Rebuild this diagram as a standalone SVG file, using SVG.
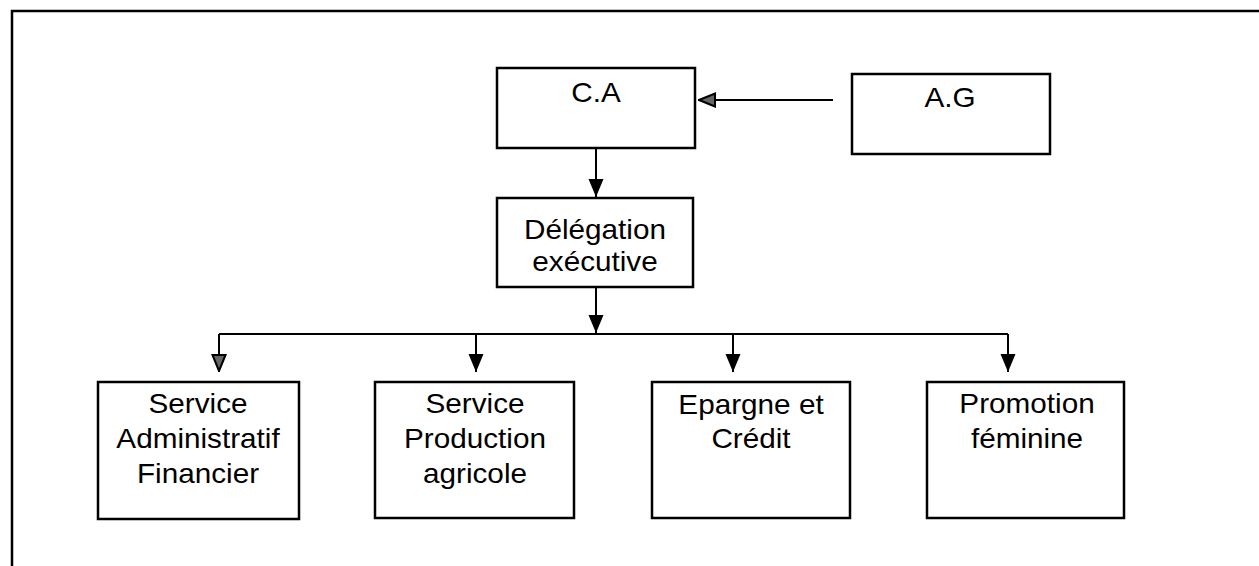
<svg xmlns="http://www.w3.org/2000/svg" width="1259" height="566" viewBox="0 0 1259 566">
<style>
.box{fill:#fff;stroke:#000;stroke-width:2.5}
.lbl{font-family:"Liberation Sans",Arial,sans-serif;font-size:27px;fill:#000;text-anchor:middle}
.con{fill:none;stroke:#000;stroke-width:2}
.frame{fill:none;stroke:#000;stroke-width:2.5}
</style>
<defs>
<marker id="ah" viewBox="0 0 18 18" refX="18" refY="9" markerWidth="18" markerHeight="18" markerUnits="userSpaceOnUse" orient="auto">
<path d="M0,1.5 L18,9 L0,16.5 z" fill="#000"/>
</marker>
<marker id="ao" viewBox="0 0 18 18" refX="18" refY="9" markerWidth="18" markerHeight="18" markerUnits="userSpaceOnUse" orient="auto">
<path d="M1,2.5 L17,9 L1,15.5 z" fill="#666" stroke="#000" stroke-width="2"/>
</marker>
</defs>
<rect width="1259" height="566" fill="#fff"/>
<path class="frame" d="M12,566 L12,11 L1259,11"/>
<g id="connectors">
<line class="con" x1="833" y1="100" x2="698" y2="100" marker-end="url(#ao)"/>
<line class="con" x1="596" y1="149" x2="596" y2="197" marker-end="url(#ah)"/>
<line class="con" x1="596" y1="288" x2="596" y2="333" marker-end="url(#ah)"/>
<line class="con" x1="219" y1="334" x2="1008" y2="334"/>
<line class="con" x1="219" y1="334" x2="219" y2="372" marker-end="url(#ao)"/>
<line class="con" x1="476" y1="334" x2="476" y2="372" marker-end="url(#ah)"/>
<line class="con" x1="733" y1="334" x2="733" y2="372" marker-end="url(#ah)"/>
<line class="con" x1="1008" y1="334" x2="1008" y2="372" marker-end="url(#ah)"/>
</g>
<g id="ca">
<rect class="box" x="497" y="68" width="198" height="80"/>
<text class="lbl" transform="translate(596 0) scale(1.1 1)" x="0" y="102">C.A</text>
</g>
<g id="ag">
<rect class="box" x="852" y="74" width="198" height="80"/>
<text class="lbl" transform="translate(950 0) scale(1.1 1)" x="0" y="107">A.G</text>
</g>
<g id="delegation">
<rect class="box" x="497" y="198" width="196" height="89"/>
<text class="lbl" transform="translate(595 0) scale(1.1 1)" x="0" y="239">Délégation</text>
<text class="lbl" transform="translate(595 0) scale(1.1 1)" x="0" y="271">exécutive</text>
</g>
<g id="saf">
<rect class="box" x="98" y="382" width="201" height="137"/>
<text class="lbl" transform="translate(198 0) scale(1.1 1)" x="0" y="413">Service</text>
<text class="lbl" transform="translate(198 0) scale(1.1 1)" x="0" y="448">Administratif</text>
<text class="lbl" transform="translate(198 0) scale(1.1 1)" x="0" y="483">Financier</text>
</g>
<g id="spa">
<rect class="box" x="375" y="382" width="199" height="136"/>
<text class="lbl" transform="translate(475 0) scale(1.1 1)" x="0" y="413">Service</text>
<text class="lbl" transform="translate(475 0) scale(1.1 1)" x="0" y="448">Production</text>
<text class="lbl" transform="translate(475 0) scale(1.1 1)" x="0" y="483">agricole</text>
</g>
<g id="epargne">
<rect class="box" x="652" y="382" width="198" height="136"/>
<text class="lbl" transform="translate(751 0) scale(1.1 1)" x="0" y="414">Epargne et</text>
<text class="lbl" transform="translate(751 0) scale(1.1 1)" x="0" y="448">Crédit</text>
</g>
<g id="promotion">
<rect class="box" x="927" y="382" width="197" height="136"/>
<text class="lbl" transform="translate(1027 0) scale(1.1 1)" x="0" y="413">Promotion</text>
<text class="lbl" transform="translate(1027 0) scale(1.1 1)" x="0" y="448">féminine</text>
</g>
</svg>
